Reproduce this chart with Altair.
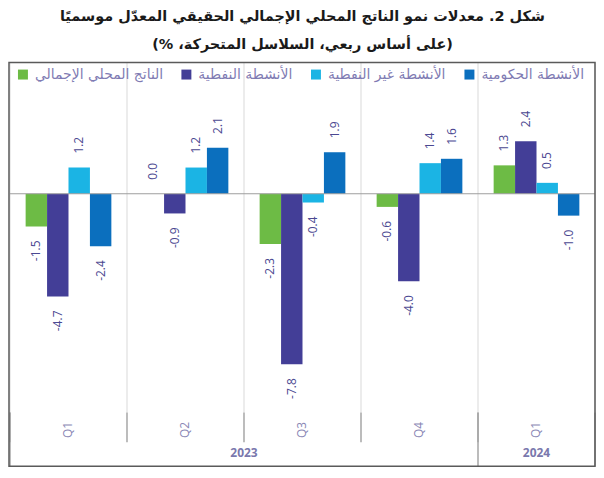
import altair as alt
import pandas as pd

# ---- data ----
periods = ["Q1 2023", "Q2 2023", "Q3 2023", "Q4 2023", "Q1 2024"]
series = ["الناتج المحلي الإجمالي", "الأنشطة النفطية", "الأنشطة غير النفطية", "الأنشطة الحكومية"]
colors = ["#6dbb45", "#433e97", "#1bb4e4", "#0b6fbe"]
gdp = [-1.5, 0.0, -2.3, -0.6, 1.3]
oil = [-4.7, -0.9, -7.8, -4.0, 2.4]
nonoil = [1.2, 1.2, -0.4, 1.4, 0.5]
gov = [-2.4, 2.1, 1.9, 1.6, -1.0]
years = ["2023", "2024"]
year_anchor = ["Q3 2023", "Q1 2024"]
title_lines = [
    "شكل 2. معدلات نمو الناتج المحلي الإجمالي الحقيقي المعدّل موسميًا",
    "\u200f(على أساس ربعي، السلاسل المتحركة، %)\u200f",
]

rows = []
for s, vals in zip(series, [gdp, oil, nonoil, gov]):
    for p, v in zip(periods, vals):
        rows.append({"period": p, "series": s, "value": v, "label": f"{v:.1f}"})
df = pd.DataFrame(rows)

W, H = 587, 351
BOX_B = H + 54

xs = alt.Scale(domain=periods, paddingInner=0, paddingOuter=0)
ys = alt.Scale(domain=[-10, 6], nice=False, zero=False)
xo = alt.Scale(domain=series, paddingInner=0, paddingOuter=0.73)

xaxis = alt.Axis(
    title=None, labelAngle=-90, labelExpr="split(datum.label, ' ')[0]",
    ticks=False, domain=False, grid=False, labelPadding=9,
    labelColor="#8a87b5", labelFont="Open Sans", labelFontSize=12,
)

def X(**kw):
    return alt.X("period:N", scale=xs, axis=xaxis, sort=periods, **kw)

one = pd.DataFrame({"zero": [0]})
sep_df = pd.DataFrame({"period": periods})
yb_df = pd.DataFrame({"period": ["Q1 2023", "Q1 2024"]})

seps = alt.Chart(sep_df).mark_rule(color="#d9d9d9", strokeWidth=1).encode(
    x=X(bandPosition=0), y=alt.value(0), y2=alt.value(H)
)
sep_end = alt.Chart(one).mark_rule(color="#d9d9d9", strokeWidth=1).encode(
    x=alt.value(W), y=alt.value(0), y2=alt.value(H)
)
ticks = alt.Chart(sep_df).mark_rule(color="#a6a6a6", strokeWidth=1.5).encode(
    x=X(bandPosition=0), y=alt.value(H), y2=alt.value(H + 30)
)
year_seps = alt.Chart(yb_df).mark_rule(color="#a6a6a6", strokeWidth=1.5).encode(
    x=X(bandPosition=0), y=alt.value(H), y2=alt.value(BOX_B)
)
end_tick = alt.Chart(one).mark_rule(color="#a6a6a6", strokeWidth=1.5).encode(
    x=alt.value(W), y=alt.value(H), y2=alt.value(BOX_B)
)

bars = alt.Chart(df).mark_bar().encode(
    x=X(),
    xOffset=alt.XOffset("series:N", scale=xo, sort=series),
    y=alt.Y("value:Q", scale=ys, axis=None),
    color=alt.Color(
        "series:N", scale=alt.Scale(domain=series, range=colors), sort=series,
        legend=alt.Legend(
            title=None, orient="none", legendX=6, legendY=5, direction="horizontal",
            symbolType="square", symbolSize=100, symbolStrokeWidth=0,
            labelFont="DejaVu Sans", labelFontSize=14, labelColor="#7f7bb3",
            columnPadding=16, labelOffset=5, padding=0, labelLimit=400,
        ),
    ),
)

zero = alt.Chart(one).mark_rule(color="#9e9e9e", strokeWidth=1.2).encode(
    y=alt.Y("zero:Q", scale=ys, axis=None), x=alt.value(0), x2=alt.value(W)
)

txt_common = dict(angle=270, baseline="middle", font="Open Sans", fontSize=12, color="#4b4891")
pos = alt.Chart(df).transform_filter("datum.value >= 0").mark_text(align="left", dx=14, **txt_common).encode(
    x=X(), xOffset=alt.XOffset("series:N", scale=xo, sort=series),
    y=alt.Y("value:Q", scale=ys, axis=None), text="label:N",
)
neg = alt.Chart(df).transform_filter("datum.value < 0").mark_text(align="right", dx=-14, **txt_common).encode(
    x=X(), xOffset=alt.XOffset("series:N", scale=xo, sort=series),
    y=alt.Y("value:Q", scale=ys, axis=None), text="label:N",
)

yr_style = dict(font="Open Sans", fontSize=12, fontWeight="bold", color="#7a78ad", baseline="middle", align="center")
yr1 = alt.Chart(pd.DataFrame({"period": [year_anchor[0]], "year": [years[0]]})).mark_text(**yr_style).encode(
    x=X(bandPosition=0), y=alt.value(H + 41), text="year:N"
)
yr2 = alt.Chart(pd.DataFrame({"period": [year_anchor[1]], "year": [years[1]]})).mark_text(**yr_style).encode(
    x=X(bandPosition=0.5), y=alt.value(H + 41), text="year:N"
)

box = alt.Chart(one).mark_rect(fillOpacity=0, stroke="#5a5a5a", strokeWidth=1.5).encode(
    x=alt.value(-1), x2=alt.value(W), y=alt.value(0), y2=alt.value(BOX_B)
)

chart = alt.layer(
    seps, sep_end, ticks, year_seps, end_tick, bars, zero, pos, neg, yr1, yr2, box
).properties(
    width=W, height=H, padding={"left": 0, "top": 0, "right": 0, "bottom": 0},
    title=alt.TitleParams(
        text=title_lines, font="DejaVu Sans", fontSize=14.5, fontWeight="bold",
        color="#1a1a1a", anchor="middle", offset=9, lineHeight=28,
    ),
).configure_view(stroke=None)

chart.save("out.html", embed_options={"renderer": "svg", "actions": False})
